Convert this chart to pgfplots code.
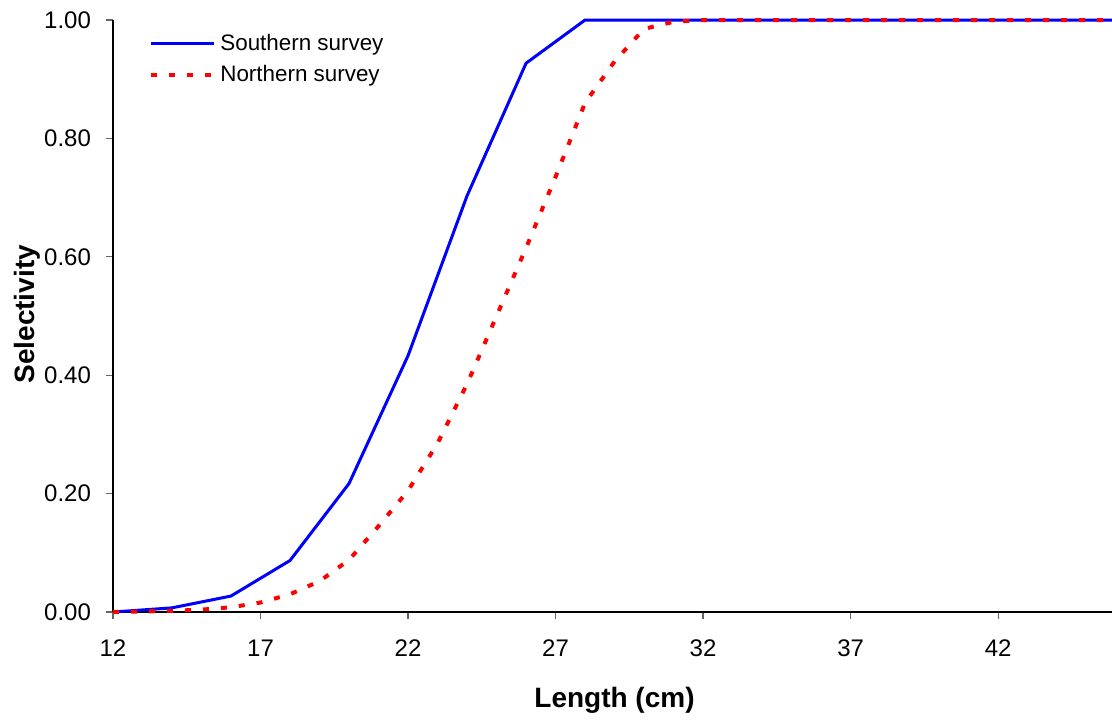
\documentclass[border=0pt]{standalone}
\usepackage{fontspec}
\setmainfont{Liberation Sans}
\usepackage{pgfplots}
\usepackage{pgfplotstable}
\pgfplotsset{compat=1.18}

\pgfplotstableread{
x y
12 0
14 0.007
16 0.027
18 0.087
20 0.217
22 0.433
24 0.703
26 0.927
28 1.0
45.86 1.0
}\southern

\pgfplotstableread{
x y
12 0
13 0.001
14 0.002
15 0.004
16 0.008
17 0.016
18 0.030
19 0.052
20 0.088
21 0.145
22 0.205
23 0.285
24 0.385
25 0.500
26 0.615
27 0.735
28 0.860
29 0.930
30 0.985
31 0.997
32 1.0
45.86 1.0
}\northern

\begin{document}
\begin{tikzpicture}
\path[use as bounding box] (-56.5pt,-53.5pt) rectangle (499.5pt,306pt);
\begin{axis}[
  at={(0,0)}, anchor=south west,
  scale only axis, width=499.5pt, height=296pt,
  xmin=12, xmax=45.86, ymin=0, ymax=1,
  clip=false,
  axis x line*=bottom, axis y line*=left,
  axis line style={black, line width=0.6pt},
  xtick={12,17,22,27,32,37,42},
  ytick={0,0.2,0.4,0.6,0.8,1.0},
  yticklabel style={/pgf/number format/fixed, /pgf/number format/fixed zerofill, /pgf/number format/precision=2, xshift=-4pt},
  tick align=outside,
  major tick length=3.5pt,
  tick style={gray!80!black, line width=0.6pt},
  /pgf/number format/assume math mode=true,
  tick label style={font=\fontsize{12}{14}\selectfont},
  xticklabel style={yshift=-7pt},
  xlabel={\textbf{Length (cm)}},
  ylabel={\textbf{Selectivity}},
  label style={font=\fontsize{14}{16}\selectfont},
  xlabel style={at={(axis description cs:0.502,-0.1486)}, anchor=center},
  ylabel style={at={(axis description cs:-0.0861,0.503)}, anchor=center},
  legend style={at={(axis description cs:0.03,0.99)}, anchor=north west,
    draw=none, fill=none, font=\fontsize{11.2}{13}\selectfont, row sep=2pt},
  legend cell align=left,
  legend image code/.code={\draw[#1] (0pt,0pt) -- (31.5pt,0pt);},
]
\addplot[blue, line width=1.5pt] table {\southern};
\addlegendentry{Southern survey}
\addplot[red, line width=2pt, dash pattern=on 3pt off 6pt] table {\northern};
\addlegendentry{Northern survey}
\end{axis}
\end{tikzpicture}
\end{document}
